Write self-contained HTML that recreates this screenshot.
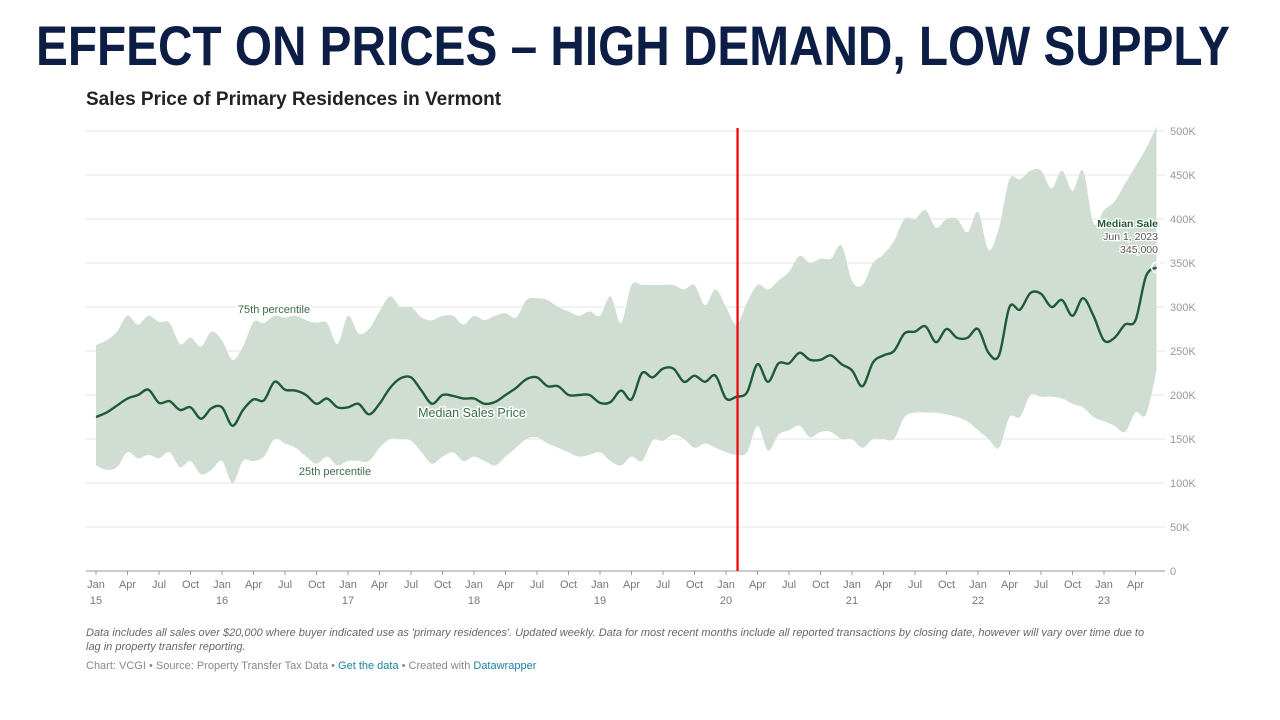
<!DOCTYPE html>
<html><head><meta charset="utf-8"><style>
body{margin:0;width:1280px;height:720px;background:#fff;font-family:"Liberation Sans",sans-serif;overflow:hidden;position:relative}
.sub{position:absolute;left:86px;top:89px;font-size:19px;font-weight:bold;color:#222}
.note{position:absolute;left:86px;top:626px;width:1060px;font-size:11px;font-style:italic;color:#666;line-height:14px}
.src{position:absolute;left:86px;top:660px;font-size:11px;color:#888}
.src span{color:#1d81a2}
</style></head><body>
<svg width="1280" height="80" style="position:absolute;left:0;top:0">
<text x="36" y="65" font-size="56" font-weight="bold" fill="#0c1e45" textLength="1194" lengthAdjust="spacingAndGlyphs" font-family="Liberation Sans, sans-serif">EFFECT ON PRICES – HIGH DEMAND, LOW SUPPLY</text>
</svg>
<div class="sub">Sales Price of Primary Residences in Vermont</div>
<svg id="chart" width="1280" height="720" style="position:absolute;left:0;top:0"></svg>
<div class="note">Data includes all sales over $20,000 where buyer indicated use as 'primary residences'. Updated weekly. Data for most recent months include all reported transactions by closing date, however will vary over time due to lag in property transfer reporting.</div>
<div class="src">Chart: VCGI • Source: Property Transfer Tax Data • <span>Get the data</span> • Created with <span>Datawrapper</span></div>
<script>
const median=[175,180,188,196,200,206,191,193,183,186,173,185,
186,165,183,195,194,215,206,205,200,190,196,186,
186,190,178,190,208,219,220,205,190,200,199,196,
196,190,192,200,208,218,220,210,210,200,200,200,
191,192,205,195,225,220,230,230,215,222,215,222,
196,198,203,235,215,236,236,248,240,240,245,235,
228,210,237,245,250,270,272,278,260,275,265,265,
275,248,245,300,297,316,315,300,308,290,310,290,
262,265,280,285,335,345];
const p75=[257,262,272,290,280,290,283,282,258,265,255,272,
262,240,255,283,282,290,288,290,285,282,282,258,
290,270,275,295,312,300,300,288,285,290,290,280,
290,285,290,293,288,308,310,308,300,295,290,295,
290,312,282,325,325,325,325,325,320,325,302,320,
300,280,305,325,320,330,340,358,350,355,355,370,
330,325,350,360,375,400,400,410,390,400,400,385,
408,365,390,445,445,455,455,435,455,432,455,395,
410,420,440,460,480,505];
const p25=[120,115,118,135,128,132,128,135,118,125,110,115,
125,100,125,125,130,150,145,140,130,122,130,120,
125,125,125,140,150,150,148,135,122,130,135,125,
130,125,120,130,140,150,152,145,140,135,130,132,
135,125,120,130,125,148,148,155,150,140,145,140,
135,132,135,165,137,155,160,165,152,158,158,150,
150,140,150,150,150,175,180,180,180,178,175,170,
160,150,140,175,175,200,198,198,196,190,186,175,
170,165,158,180,178,228];
const yTicks=[0,50,100,150,200,250,300,350,400,450,500];
const yTickLabels=["0","50K","100K","150K","200K","250K","300K","350K","400K","450K","500K"];
const monthNames=["Jan","Apr","Jul","Oct"];
const years=["15","16","17","18","19","20","21","22","23"];
const markerMonth=61.1;
const NS="http://www.w3.org/2000/svg";
const svg=document.getElementById('chart');
const x=i=>96+i*10.5;
const y=v=>571-v*0.88;
function el(t,a,txt){const e=document.createElementNS(NS,t);for(const k in a)e.setAttribute(k,a[k]);if(txt!==undefined)e.textContent=txt;svg.appendChild(e);return e;}
function curve(pts,move){let d=move?`M${pts[0][0]},${pts[0][1]}`:`L${pts[0][0]},${pts[0][1]}`;
for(let i=0;i<pts.length-1;i++){const p0=pts[Math.max(0,i-1)],p1=pts[i],p2=pts[i+1],p3=pts[Math.min(pts.length-1,i+2)];
const c1=[p1[0]+(p2[0]-p0[0])/6,p1[1]+(p2[1]-p0[1])/6],c2=[p2[0]-(p3[0]-p1[0])/6,p2[1]-(p3[1]-p1[1])/6];
d+=`C${c1[0]},${c1[1]} ${c2[0]},${c2[1]} ${p2[0]},${p2[1]}`;}return d;}
yTicks.forEach((t,i)=>{
const g=el('line',{x1:86,x2:1165,y1:y(t),y2:y(t),stroke:i==0?'#999':'#e6e6e6','stroke-width':1});

const l=el('text',{x:1170,y:y(t)+4,'font-size':11,fill:'#999'},yTickLabels[i]);

});
const up=p75.map((v,i)=>[x(i),y(v)]),lo=p25.map((v,i)=>[x(i),y(v)]).reverse();
const band=el('path',{d:curve(up,true)+curve(lo,false)+'Z',fill:'#cfddd3'});

for(let yr=0;yr<years.length;yr++)for(let q=0;q<4;q++){const m=yr*12+q*3;if(m>median.length-1)continue;
const t=el('text',{x:x(m),y:588,'font-size':11,fill:'#777','text-anchor':'middle'},monthNames[q]);

el('line',{x1:x(m),x2:x(m),y1:571,y2:575,stroke:'#999'});
if(q==0){const yl=el('text',{x:x(m),y:604,'font-size':11,fill:'#777','text-anchor':'middle'},years[yr]);
}}
const line=el('path',{d:curve(median.map((v,i)=>[x(i),y(v)]),true),fill:'none',stroke:'#1f5a36','stroke-width':2.4});

const vl=el('line',{x1:x(markerMonth),x2:x(markerMonth),y1:128,y2:571,stroke:'#e00','stroke-width':2.2});

const last=median.length-1;
const c=el('circle',{cx:x(last),cy:y(median[last]),r:5,fill:'none',stroke:'#fff','stroke-width':1.5});

[['75th percentile',274,313,11,'#3d6b4a','normal'],['25th percentile',335,475,11,'#3d6b4a','normal'],['Median Sales Price',472,417,12.5,'#3d6b4a','normal']].forEach(a=>{
const t=el('text',{x:a[1],y:a[2],'font-size':a[3],fill:a[4],'text-anchor':'middle',stroke:'#fff','stroke-width':3,'paint-order':'stroke'},a[0]);
});
[['Median Sale',227,'#1f5a36','bold'],['Jun 1, 2023',240,'#555','normal'],['345,000',253,'#555','normal']].forEach(a=>{
const t=el('text',{x:1158,y:a[1],'font-size':10.5,fill:a[2],'font-weight':a[3],'text-anchor':'end',stroke:'#fff','stroke-width':2.5,'paint-order':'stroke'},a[0]);
});
</script>
</body></html>
